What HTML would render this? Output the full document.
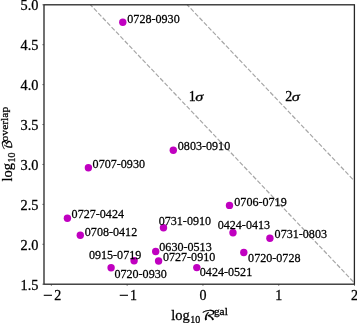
<!DOCTYPE html>
<html><head><meta charset="utf-8"><title>plot</title>
<style>html,body{margin:0;padding:0;background:#fff}svg{display:block}</style>
</head><body>
<svg width="357" height="323" viewBox="0 0 357 323">
<rect width="357" height="323" fill="#fff"/>
<g stroke="#a6a6a6" stroke-width="1.2" stroke-dasharray="4.48 1.94" stroke-dashoffset="1.43" fill="none">
<line x1="90.45" y1="4.8" x2="354.40" y2="282.84"/>
<line x1="187.2" y1="4.8" x2="354.40" y2="180.93"/>
</g>
<g fill="#c000c0">
<circle cx="122.8" cy="22.30" r="3.7"/>
<circle cx="173.3" cy="150.20" r="3.7"/>
<circle cx="88.4" cy="167.80" r="3.7"/>
<circle cx="229.5" cy="205.40" r="3.7"/>
<circle cx="67.4" cy="218.20" r="3.7"/>
<circle cx="80.3" cy="235.30" r="3.7"/>
<circle cx="163.5" cy="227.80" r="3.7"/>
<circle cx="233.0" cy="232.70" r="3.7"/>
<circle cx="269.9" cy="238.20" r="3.7"/>
<circle cx="155.7" cy="251.50" r="3.7"/>
<circle cx="243.8" cy="252.50" r="3.7"/>
<circle cx="158.6" cy="261.00" r="3.7"/>
<circle cx="134.1" cy="260.80" r="3.7"/>
<circle cx="111.1" cy="267.80" r="3.7"/>
<circle cx="196.8" cy="267.60" r="3.7"/>
</g>
<rect x="44.0" y="4.8" width="310.4" height="279.4" fill="none" stroke="#262626" stroke-width="1.3"/>
<g stroke="#333" stroke-width="0.7">
<line x1="51.39" y1="284.2" x2="51.39" y2="285.8"/>
<line x1="127.17" y1="284.2" x2="127.17" y2="285.8"/>
<line x1="202.95" y1="284.2" x2="202.95" y2="285.8"/>
<line x1="278.73" y1="284.2" x2="278.73" y2="285.8"/>
<line x1="354.51" y1="284.2" x2="354.51" y2="285.8"/>
<line x1="44.0" y1="284.20" x2="42.4" y2="284.20"/>
<line x1="44.0" y1="244.29" x2="42.4" y2="244.29"/>
<line x1="44.0" y1="204.37" x2="42.4" y2="204.37"/>
<line x1="44.0" y1="164.46" x2="42.4" y2="164.46"/>
<line x1="44.0" y1="124.54" x2="42.4" y2="124.54"/>
<line x1="44.0" y1="84.63" x2="42.4" y2="84.63"/>
<line x1="44.0" y1="44.71" x2="42.4" y2="44.71"/>
<line x1="44.0" y1="4.80" x2="42.4" y2="4.80"/>
</g>
<g font-family="'Liberation Serif', serif" fill="#000" stroke="#000" stroke-width="0.27">
<g font-size="13.0">
<text x="127.30" y="22.50" textLength="52.4" lengthAdjust="spacingAndGlyphs">0728-0930</text>
<text x="177.80" y="149.80" textLength="52.4" lengthAdjust="spacingAndGlyphs">0803-0910</text>
<text x="92.60" y="168.00" textLength="52.4" lengthAdjust="spacingAndGlyphs">0707-0930</text>
<text x="234.30" y="205.60" textLength="52.4" lengthAdjust="spacingAndGlyphs">0706-0719</text>
<text x="71.60" y="218.40" textLength="52.4" lengthAdjust="spacingAndGlyphs">0727-0424</text>
<text x="84.80" y="235.50" textLength="52.4" lengthAdjust="spacingAndGlyphs">0708-0412</text>
<text x="158.70" y="224.50" textLength="52.4" lengthAdjust="spacingAndGlyphs">0731-0910</text>
<text x="217.70" y="229.20" textLength="52.4" lengthAdjust="spacingAndGlyphs">0424-0413</text>
<text x="274.60" y="238.40" textLength="52.4" lengthAdjust="spacingAndGlyphs">0731-0803</text>
<text x="159.30" y="250.80" textLength="52.4" lengthAdjust="spacingAndGlyphs">0630-0513</text>
<text x="248.10" y="261.90" textLength="52.4" lengthAdjust="spacingAndGlyphs">0720-0728</text>
<text x="162.90" y="260.90" textLength="52.4" lengthAdjust="spacingAndGlyphs">0727-0910</text>
<text x="88.90" y="258.60" textLength="52.4" lengthAdjust="spacingAndGlyphs">0915-0719</text>
<text x="114.40" y="278.40" textLength="52.4" lengthAdjust="spacingAndGlyphs">0720-0930</text>
<text x="199.80" y="275.80" textLength="52.4" lengthAdjust="spacingAndGlyphs">0424-0521</text>
</g>
<g font-size="14" text-anchor="end">
<text x="38.4" y="289.70" textLength="17.9" lengthAdjust="spacingAndGlyphs">1.5</text>
<text x="38.4" y="249.79" textLength="17.9" lengthAdjust="spacingAndGlyphs">2.0</text>
<text x="38.4" y="209.87" textLength="17.9" lengthAdjust="spacingAndGlyphs">2.5</text>
<text x="38.4" y="169.96" textLength="17.9" lengthAdjust="spacingAndGlyphs">3.0</text>
<text x="38.4" y="130.04" textLength="17.9" lengthAdjust="spacingAndGlyphs">3.5</text>
<text x="38.4" y="90.13" textLength="17.9" lengthAdjust="spacingAndGlyphs">4.0</text>
<text x="38.4" y="50.21" textLength="17.9" lengthAdjust="spacingAndGlyphs">4.5</text>
<text x="38.4" y="10.30" textLength="17.9" lengthAdjust="spacingAndGlyphs">5.0</text>
</g>
<g font-size="14" text-anchor="middle">
<text text-anchor="start" x="43.39" y="300.3"><tspan textLength="9.6" lengthAdjust="spacingAndGlyphs">−</tspan><tspan dx="1.3">2</tspan></text>
<text text-anchor="start" x="119.17" y="300.3"><tspan textLength="9.6" lengthAdjust="spacingAndGlyphs">−</tspan><tspan dx="1.3">1</tspan></text>
<text x="202.95" y="300.3">0</text>
<text x="278.73" y="300.3">1</text>
<text x="354.51" y="300.3">2</text>
</g>
<text x="188.8" y="100.9" font-size="14">1</text>
<text x="195.3" y="100.9" font-size="12" font-style="italic" textLength="8.0" lengthAdjust="spacingAndGlyphs">σ</text>
<text x="285.3" y="100.9" font-size="14">2</text>
<text x="291.8" y="100.9" font-size="12" font-style="italic" textLength="8.0" lengthAdjust="spacingAndGlyphs">σ</text>
<g transform="translate(171.3,319.7)"><text x="0" y="0" font-size="14.5">log</text><text x="19.0" y="2.9" font-size="10.0">10</text><text x="29.6" y="0" font-size="13.3" font-family="'DejaVu Math TeX Gyre','DejaVu Sans',sans-serif" stroke-width="0.15" textLength="15.2" lengthAdjust="spacingAndGlyphs">ℛ</text><text x="42.6" y="-4.4" font-size="10.8" textLength="14.0" lengthAdjust="spacingAndGlyphs">gal</text></g>
<g transform="translate(12,181.6) rotate(-90)"><text x="0" y="0" font-size="14.5">log</text><text x="19.0" y="2.9" font-size="10.0">10</text><text x="31.4" y="0" font-size="13.3" font-family="'DejaVu Math TeX Gyre','DejaVu Sans',sans-serif" stroke-width="0.15" textLength="10.6" lengthAdjust="spacingAndGlyphs">ℬ</text><text x="40.2" y="-4.4" font-size="10.8" textLength="34.6" lengthAdjust="spacingAndGlyphs">overlap</text></g>
</g>
</svg>
</body></html>
